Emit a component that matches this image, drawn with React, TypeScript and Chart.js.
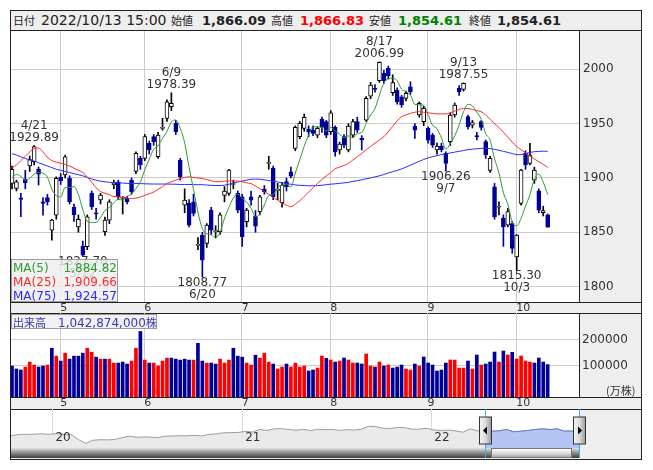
import React, { useEffect, useRef } from "react";
import { Chart, registerables } from "chart.js";
Chart.register(...registerables);

const FONT = '"DejaVu Sans", Verdana, sans-serif';
const JP = '"Noto Sans CJK JP", "DejaVu Sans", sans-serif';

// ---- daily candles 2022/4/14 .. 2022/10/13 (index 0..121) ----
const opens = [1895,1890.4,1881.8,1898.7,1911,1915,1907.9,1878,1882,1852,
1865.8,1900.5,1902.7,1899.6,1873,1855,1837.3,1836.7,1885.8,1868,
1879.7,1850.5,1861.2,1893.5,1896.5,1881.2,1881.2,1898,1906,1918,
1918,1931.9,1938,1919.6,1945.7,1954.9,1965.6,1950.3,1916.5,1875,
1876.6,1878,1838,1847.4,1839.8,1870.4,1850.5,1850.5,1884,1885.8,
1894,1885.8,1882.7,1859.7,1882.7,1864.9,1869,1889.8,1913.5,1909,
1888.5,1877.2,1896.6,1905.7,1927.3,1938,1945.7,1944.7,1944,1939.5,
1954,1951.8,1942.6,1946.6,1925.7,1938,1925.7,1939.5,1951.8,1936.5,
1953.3,1975.4,1982.5,1989.6,1996.3,2000.9,1978.5,1981,1974.8,1973.3,
1984,1947.8,1958,1951.8,1945.7,1939.5,1925.7,1929.4,1922.7,1933.4,
1958,1982.5,1981.6,1956.4,1948.7,1938.5,1951.8,1933.4,1907,1891.9,
1873,1862.8,1856.6,1858,1827.4,1876.6,1922.7,1913.4,1898,1888.2,
1868,1866.09];
const highs = [1911,1898,1885.8,1907,1920,1929.89,1910,1882,1885,1862,
1901,1904,1921,1902,1876,1866,1842,1866,1888,1872,
1886,1864,1880,1898,1898,1883,1883,1900,1924,1920,
1940,1934,1940,1942,1955,1972,1978.39,1953,1918,1890,
1880,1885,1845,1850,1858,1873,1856,1868,1892,1908,
1898,1888,1885,1872,1888,1870,1884,1893,1920,1911,
1895,1896,1900,1910,1948,1952,1958.9,1948,1948,1947,
1956,1953,1962,1948,1933,1940,1950,1954,1956,1939,
1975,1988,1986,2006.99,1999,2003,1995,1983,1976,1980,
1988.6,1950,1970,1966,1947,1941,1932,1932,1924,1960,
1969,1985,1987.55,1958,1953,1942,1953,1935,1920,1895,
1878,1866,1872,1860,1848,1908,1925,1931.9,1910,1890,
1874,1866.83];
const lows = [1890,1888,1864.3,1890,1906,1912,1893.5,1865.8,1875,1842.8,
1862,1894,1900,1876,1860,1850,1827.7,1834,1871,1862,
1876,1847,1858,1890,1880,1866.8,1876,1885,1904,1908,
1916,1922,1930,1918,1944,1952,1962,1940,1898,1868,
1855,1865,1834,1808.77,1836,1848,1845,1848,1878,1884,
1890,1868,1837,1855,1875,1850,1866,1885,1908,1880,
1880,1873,1888,1900,1925,1936,1943,1938,1939,1937,
1942,1937,1940,1920,1922,1928,1924,1937,1942,1925.7,
1952,1973,1979,1988,1987,1991,1976,1968,1965,1971,
1977,1936.5,1956,1948,1932,1928,1922,1924,1906.26,1930,
1956,1976,1980,1945,1946,1935,1944,1918,1905,1862,
1866,1837,1855,1830.6,1815.3,1875,1908,1912,1895,1868,
1865,1854.61];
const closes = [1908,1896.5,1880.3,1895.6,1917,1928.8,1903.6,1876.6,1878,1861.2,
1899.6,1897.5,1919.5,1878.1,1866,1862,1829,1864.3,1873.5,1867,
1884.3,1861.2,1878.1,1895.6,1882.7,1881.2,1878.1,1887.3,1922.7,1912,
1938,1925.7,1933.4,1939.5,1945.7,1970.2,1968.7,1942.6,1901,1879.6,
1856.6,1867.4,1838.5,1824.4,1856.6,1852,1851.5,1866,1888,1907.3,
1894.4,1870.4,1845.9,1870.4,1879.6,1855.7,1882.7,1887.3,1914,1882.7,
1888.9,1893.5,1891.9,1901.7,1946.6,1950.3,1955.8,1942.6,1941,1945.7,
1946.6,1939.5,1960,1924.2,1931.2,1930.3,1947.8,1951.8,1944.1,1935,
1973.3,1985.6,1981.6,2006.4,1989.6,1993.9,1987.7,1970.2,1967.2,1977.9,
1979.4,1944.1,1968.7,1964.1,1934.9,1930.3,1929.4,1925.7,1913.4,1958,
1967.2,1979.4,1987.1,1947.2,1950.9,1938,1946.6,1921.1,1918,1864.3,
1873.5,1855,1869,1835.2,1847.4,1907.3,1911.9,1921,1907.3,1870.4,
1870,1854.61];
const prevCloses = [1880, 1890, 1912, 1910];

const ma25 = [1909,1912,1916,1920,1924,1927,1927.5,1924,1919,1916,
1914.5,1913.5,1912.5,1911,1909,1907,1905,1901,1896,1891,
1887.5,1886,1884.5,1883,1882.5,1882,1881.5,1881,1881.5,1882.5,
1884,1885.5,1887,1889.5,1892,1895,1896.5,1898,1899.5,1900.5,
1901,1900.5,1900,1899.5,1898.5,1897.5,1896.5,1896.5,1897,1897.2,
1897.4,1897,1896.5,1895.5,1894.8,1892.5,1890,1887.5,1885,1882,
1879.5,1877,1875,1873.5,1876,1879,1883,1887,1891,1895,
1898.5,1902,1905,1908.5,1910,1911.5,1913.5,1916.5,1919.5,1922.5,
1926,1929,1932,1935,1938,1942.5,1947.5,1952.5,1956.5,1958,
1959.5,1960.5,1961,1960.5,1960,1959.5,1959,1959,1959,1960,
1961.5,1963,1964,1964,1963,1962,1961,1958,1954,1950,
1946.5,1942,1937.5,1933,1929,1926,1923,1920,1917.5,1915,
1912.5,1909.66];
const ma75 = [1922.5,1921,1919.5,1918,1916.5,1915.5,1914,1912.5,1911,1909.5,
1908,1907,1906,1905,1904,1903,1902,1900.5,1899,1898,
1897,1896.5,1896,1895.8,1895.5,1895.3,1895,1895,1895,1894.8,
1894.6,1894.5,1894.4,1894.4,1894.4,1894.4,1894.3,1894.2,1894,1894,
1894,1893.9,1893.8,1893.8,1893.5,1893.2,1893,1893,1893.3,1894.2,
1895.3,1896.3,1897.2,1898,1898.8,1899,1898.8,1898.3,1897.6,1897,
1896.3,1895.6,1894.9,1894.2,1893.6,1893.2,1893,1892.8,1892.8,1893,
1893.3,1893.8,1894.3,1894.6,1895,1895.5,1896,1896.8,1897.5,1898.3,
1899.2,1900,1901,1902,1903.2,1904.5,1905.8,1907,1908.3,1910,
1911.8,1913.6,1915.4,1917,1918.5,1919.6,1920.6,1921.5,1922.3,1923,
1923.8,1924.5,1925.3,1926,1926.5,1926.9,1927.2,1927.3,1927,1926.3,
1925.5,1924.5,1923.5,1922.5,1921.5,1921.5,1922.5,1923.5,1924.2,1924.5,
1924.6,1924.57];

// volume in 万株
const volumes = [98700,87200,83300,94900,114100,102600,94900,98700,102600,168000,
137200,118000,148700,125600,137200,137200,148700,168000,152600,133300,
125600,125600,125600,110300,110300,114100,106400,118000,168000,233300,
121800,110300,110300,98700,118000,129500,129500,125600,121800,125600,
121800,121800,187200,118000,110300,110300,106400,125600,110300,121800,
168000,137200,133300,110300,102600,141000,129500,148700,114100,106400,
87200,94900,106400,94900,110300,94900,98700,79500,83300,91000,
137700,128600,122100,114300,118200,129900,122100,110400,110400,106500,
145500,98700,94800,114300,98700,102600,90900,94800,102600,87000,
83100,106500,98700,133800,110400,102600,79200,83100,110400,122100,
122100,90900,90900,118200,87000,141600,102600,106500,114300,153200,
114300,157100,141600,151900,126000,137700,118200,114300,110400,129900,
114300,104287];

const priceTicks = [1800, 1850, 1900, 1950, 2000];
const volumeTicks = [100000, 200000];
const monthLabels = ["5", "6", "7", "8", "9", "10"];
const monthStartIdx = [11, 30, 52, 72, 94, 114];

// high / low annotations
const noteIdx = [5, 36, 83, 102, 16, 43, 98, 114];
const noteDate = ["4/21", "6/9", "8/17", "9/13", "5/12", "6/20", "9/7", "10/3"];
const noteKind = ["high", "high", "high", "high", "low", "low", "low", "low"];

const maNames = ["MA(5)", "MA(25)", "MA(75)"];
const maValueText = ["1,884.82", "1,909.66", "1,924.57"];
const maColors = ["#2f9a2f", "#ff2a2a", "#2a2aff"];

// navigator: TOPIX every 14 days, the last point on 2022/10/13 (day 1096 from 2019/10/13)
const navValues = [1620,1650,1700,1700,1710,1730,1700,1745,1690,1690,
1440,1240,1400,1430,1420,1440,1530,1610,1550,1570,
1560,1540,1610,1620,1630,1630,1650,1620,1700,1730,
1780,1790,1800,1850,1820,1950,1900,1980,1990,1950,
1910,1960,1890,1960,1940,1950,1900,1940,1920,1960,
2110,2090,2010,2000,2050,2040,1960,1970,2010,1920,
1900,1920,1880,1810,1980,1880,1880,1860,1880,1950,
1830,1860,1900,1950,1980,1945,1980,1865,1870,1854.61];
const navStepDays = 14;
const navLastDay = 1096;
const navYearLabels = ["20", "21", "22"];
const navYearDays = [80, 446, 811];
const navSelStart = 914;

const X_MIN = -0.227, X_MAX = 128.08;
const Y_MIN = 1785.8, Y_MAX = 2035.3;
const VOL_MIN = -21790, VOL_MAX = 305058;
const NAV_MIN = 1008, NAV_MAX = 2989;

const DOWN = "#000099";
const UPVOL = "#ff0000";

const idx = closes.map((_, i) => i);
const allCloses = [...prevCloses, ...closes];
const ma5 = closes.map((_, i) => {
  let s = 0;
  for (let k = 0; k < 5; k++) s += allCloses[i + 4 - k];
  return s / 5;
});
const isUp = (i: number) => closes[i] >= opens[i];
const prevClose = (i: number) => (i === 0 ? prevCloses[prevCloses.length - 1] : closes[i - 1]);

const xAxisBase = (height: number) => ({
  type: "linear" as const,
  min: X_MIN,
  max: X_MAX,
  offset: false,
  grid: { color: "#cccccc", drawTicks: false, offset: false },
  border: { display: false },
  ticks: {
    font: { family: FONT, size: 11 },
    color: "#333",
    padding: 0,
    align: "start" as const,
    maxRotation: 0,
    autoSkip: false,
    callback: (_v: any, i: number) => monthLabels[i],
  },
  afterBuildTicks: (s: any) => {
    s.ticks = monthStartIdx.map((m) => ({ value: m - 0.12 }));
  },
  afterFit: (s: any) => {
    s.height = height;
    s.paddingLeft = 0;
    s.paddingRight = 0;
  },
});

const notePlugin = {
  id: "notes",
  afterDatasetsDraw(chart: any) {
    const { ctx } = chart;
    const x = chart.scales.x;
    const y = chart.scales.y;
    ctx.save();
    ctx.font = `12px ${FONT}`;
    ctx.fillStyle = "#333";
    ctx.textAlign = "center";
    ctx.textBaseline = "middle";
    noteIdx.forEach((i, k) => {
      const px = x.getPixelForValue(i);
      if (noteKind[k] === "high") {
        const py = y.getPixelForValue(highs[i]);
        ctx.fillText(highs[i].toFixed(2), px, py - 7.5);
        ctx.fillText(noteDate[k], px, py - 19.5);
      } else {
        const py = y.getPixelForValue(lows[i]);
        ctx.fillText(lows[i].toFixed(2), px, py + 5.5);
        ctx.fillText(noteDate[k], px, py + 17.5);
      }
    });
    ctx.restore();
  },
};

const navPlugin = {
  id: "nav",
  afterDraw(chart: any) {
    const { ctx, chartArea } = chart;
    const xs = chart.scales.x;
    ctx.save();
    ctx.font = `12px ${FONT}`;
    ctx.fillStyle = "#333";
    ctx.textAlign = "left";
    ctx.textBaseline = "middle";
    navYearDays.forEach((d, k) => {
      ctx.fillText(navYearLabels[k], xs.getPixelForValue(d) + 3, chartArea.top + 29);
    });
    [navSelStart, navLastDay].forEach((d, k) => {
      const px = Math.round(xs.getPixelForValue(d)) + 0.5;
      ctx.strokeStyle = "#2bb6e6";
      ctx.lineWidth = 1;
      ctx.beginPath();
      ctx.moveTo(px, 0);
      ctx.lineTo(px, chart.height);
      ctx.stroke();
      const hx = px - 6, hy = chartArea.top + 8, hw = 12, hh = 27;
      const g = ctx.createLinearGradient(hx, 0, hx + hw, 0);
      g.addColorStop(0, "#f4f4f4");
      g.addColorStop(0.5, "#dcdcdc");
      g.addColorStop(1, "#9a9a9a");
      ctx.fillStyle = g;
      ctx.fillRect(hx, hy, hw, hh);
      ctx.strokeStyle = "#333";
      ctx.strokeRect(hx, hy, hw, hh);
      ctx.fillStyle = "#000";
      ctx.beginPath();
      const cy = hy + hh / 2;
      if (k === 0) {
        ctx.moveTo(px - 2.5, cy);
        ctx.lineTo(px + 1.5, cy - 4);
        ctx.lineTo(px + 1.5, cy + 4);
      } else {
        ctx.moveTo(px + 2.5, cy);
        ctx.lineTo(px - 1.5, cy - 4);
        ctx.lineTo(px - 1.5, cy + 4);
      }
      ctx.closePath();
      ctx.fill();
    });
    ctx.restore();
  },
};

export default function App() {
  const mainRef = useRef<HTMLCanvasElement>(null);
  const volRef = useRef<HTMLCanvasElement>(null);
  const navRef = useRef<HTMLCanvasElement>(null);

  useEffect(() => {
    const common = {
      animation: false as const,
      responsive: false,
      maintainAspectRatio: false,
      events: [] as any[],
      plugins: { legend: { display: false }, tooltip: { enabled: false } },
    };

    const main = new Chart(mainRef.current!, {
      type: "bar",
      data: {
        datasets: [
          {
            type: "line",
            data: ma5.map((v, i) => ({ x: i, y: v })),
            borderColor: maColors[0],
            borderWidth: 1,
            pointRadius: 0,
            cubicInterpolationMode: "monotone",
            order: 0,
          },
          {
            type: "line",
            data: ma25.map((v, i) => ({ x: i, y: v })),
            borderColor: maColors[1],
            borderWidth: 1,
            pointRadius: 0,
            cubicInterpolationMode: "monotone",
            order: 0,
          },
          {
            type: "line",
            data: ma75.map((v, i) => ({ x: i, y: v })),
            borderColor: maColors[2],
            borderWidth: 1,
            pointRadius: 0,
            cubicInterpolationMode: "monotone",
            order: 0,
          },
          {
            type: "bar",
            data: idx.map((i) => ({ x: i, y: [opens[i], closes[i]] })),
            backgroundColor: idx.map((i) => (isUp(i) ? "#ffffff" : DOWN)),
            borderColor: idx.map((i) => (isUp(i) ? "#000000" : DOWN)),
            borderWidth: 1,
            borderSkipped: false,
            barThickness: 4,
            minBarLength: 1,
            grouped: false,
            order: 1,
          },
          {
            type: "bar",
            data: idx.map((i) => ({ x: i, y: [lows[i], highs[i]] })),
            backgroundColor: idx.map((i) => (isUp(i) ? "#000000" : DOWN)),
            barThickness: 1,
            grouped: false,
            order: 2,
          },
        ],
      } as any,
      options: {
        ...common,
        layout: { padding: 0 },
        scales: {
          x: xAxisBase(11),
          y: {
            type: "linear",
            position: "right",
            min: Y_MIN,
            max: Y_MAX,
            grid: { color: "#cccccc", drawTicks: false },
            border: { display: false },
            ticks: {
              font: { family: FONT, size: 12 },
              color: "#333",
              padding: 4,
              callback: (v: any) => String(v),
            },
            afterBuildTicks: (s: any) => {
              s.ticks = priceTicks.map((v) => ({ value: v }));
            },
            afterFit: (s: any) => {
              s.width = 62;
              s.paddingTop = 0;
              s.paddingBottom = 0;
            },
          },
        },
      } as any,
      plugins: [notePlugin],
    });

    const vol = new Chart(volRef.current!, {
      type: "bar",
      data: {
        datasets: [
          {
            data: idx.map((i) => ({ x: i, y: volumes[i] })),
            backgroundColor: idx.map((i) => (closes[i] >= prevClose(i) ? UPVOL : DOWN)),
            barThickness: 3,
            base: VOL_MIN,
            grouped: false,
          },
        ],
      } as any,
      options: {
        ...common,
        layout: { padding: 0 },
        scales: {
          x: xAxisBase(12),
          y: {
            type: "linear",
            position: "right",
            min: VOL_MIN,
            max: VOL_MAX,
            grid: { color: "#cccccc", drawTicks: false },
            border: { display: false },
            ticks: {
              font: { family: FONT, size: 12 },
              color: "#333",
              padding: 3,
              callback: (v: any) => String(v),
            },
            afterBuildTicks: (s: any) => {
              s.ticks = volumeTicks.map((v) => ({ value: v }));
            },
            afterFit: (s: any) => {
              s.width = 62;
              s.paddingTop = 0;
              s.paddingBottom = 0;
            },
          },
        },
      } as any,
    });

    const navData = navValues.map((v, k) => ({
      x: navLastDay - navStepDays * (navValues.length - 1 - k),
      y: v,
    }));
    const navSel = navData.filter((p) => p.x >= navSelStart);
    const nav = new Chart(navRef.current!, {
      type: "line",
      data: {
        datasets: [
          {
            data: navSel,
            borderColor: "#6b78c6",
            borderWidth: 1,
            pointRadius: 0,
            fill: "start",
            backgroundColor: "#b4c4f4",
          },
          {
            data: navData,
            borderColor: "#9c9c9c",
            borderWidth: 1,
            pointRadius: 0,
            fill: "start",
            backgroundColor: "#eaeaea",
          },
        ],
      } as any,
      options: {
        ...common,
        layout: { padding: { left: 0, top: 0, right: 62, bottom: 10 } },
        scales: {
          x: {
            type: "linear",
            min: 0,
            max: navLastDay,
            grid: { color: "#d8d8d8", drawTicks: false },
            border: { display: false },
            ticks: { display: false },
            afterBuildTicks: (s: any) => {
              s.ticks = navYearDays.map((d) => ({ value: d }));
            },
            afterFit: (s: any) => {
              s.height = 0;
              s.paddingLeft = 0;
              s.paddingRight = 0;
            },
          },
          y: { type: "linear", display: false, min: NAV_MIN, max: NAV_MAX },
        },
      } as any,
      plugins: [navPlugin],
    });

    return () => {
      main.destroy();
      vol.destroy();
      nav.destroy();
    };
  }, []);

  const abs = (l: number, t: number, w: number, h: number, extra: any = {}) => ({
    position: "absolute" as const,
    left: l,
    top: t,
    width: w,
    height: h,
    ...extra,
  });
  const line = "#222";
  const hdrLabel = { fontFamily: JP, fontSize: 11, color: "#222" };
  const hdrNum = { fontFamily: FONT, fontSize: 13, fontWeight: "bold" as const };

  const headerItems: [number, string, any][] = [
    [13, "日付", hdrLabel],
    [41, "2022/10/13 15:00", { fontFamily: FONT, fontSize: 14, color: "#222" }],
    [171, "始値", hdrLabel],
    [202, "1,866.09", { ...hdrNum, color: "#222" }],
    [271, "高値", hdrLabel],
    [300, "1,866.83", { ...hdrNum, color: "#ff0000" }],
    [369, "安値", hdrLabel],
    [398, "1,854.61", { ...hdrNum, color: "#008000" }],
    [469, "終値", hdrLabel],
    [497, "1,854.61", { ...hdrNum, color: "#222" }],
  ];

  return (
    <div style={abs(0, 0, 653, 470, { background: "#fff", overflow: "hidden" })}>
      <div style={abs(10, 10, 632, 450, { background: "#eeeeee", border: `1px solid ${line}`, boxSizing: "border-box" })} />
      {headerItems.map(([l, t, st], k) => (
        <span key={k} style={{ position: "absolute", left: l, top: 10, height: 20, lineHeight: "21px", whiteSpace: "nowrap", ...st }}>
          {t}
        </span>
      ))}
      <div style={abs(10, 30, 632, 1, { background: line })} />
      <div style={abs(11, 31, 568, 271, { background: "#fff" })} />
      <div style={abs(579, 31, 1, 271, { background: line })} />
      <div style={abs(10, 302, 632, 1, { background: line })} />
      <div style={abs(10, 313, 632, 1, { background: line })} />
      <div style={abs(11, 314, 568, 83, { background: "#fff" })} />
      <div style={abs(579, 314, 1, 83, { background: line })} />
      <div style={abs(10, 397, 632, 1, { background: line })} />
      <div style={abs(10, 409, 632, 1, { background: line })} />
      <div style={abs(11, 410, 568, 38, { background: "#fff" })} />
      <div style={abs(579, 410, 1, 48, { background: line })} />
      <div style={abs(11, 448, 568, 10, { background: "linear-gradient(#e2e2e2, #9a9a9a 40%, #3c3c3c)" })} />
      <div style={abs(491, 448, 81, 10, { background: "linear-gradient(#ffffff, #dcdcdc 55%, #aaaaaa)", border: "1px solid #777", boxSizing: "border-box" })} />

      <canvas ref={mainRef} width={630} height={282} style={abs(11, 31, 630, 282)} />
      <canvas ref={volRef} width={630} height={96} style={abs(11, 313, 630, 96)} />
      <canvas ref={navRef} width={630} height={49} style={abs(11, 409, 630, 49)} />

      <div style={abs(11, 259, 107, 43, { background: "rgba(238,238,238,0.82)", border: "1px solid #9a9a9a", boxSizing: "border-box" })}>
        {maNames.map((n, k) => (
          <div key={k} style={{ position: "absolute", left: 0, top: 1 + k * 14, width: 105, height: 14, lineHeight: "14px", fontFamily: FONT, fontSize: 12, color: maColors[k] }}>
            <span style={{ position: "absolute", left: 1 }}>{n}</span>
            <span style={{ position: "absolute", right: 0 }}>{maValueText[k]}</span>
          </div>
        ))}
      </div>
      <div style={abs(11, 314, 146, 15, { background: "rgba(238,238,238,0.85)", border: "1px solid #9a9a9a", boxSizing: "border-box", whiteSpace: "nowrap", lineHeight: "13px", color: "#3a3ab0" })}>
        <span style={{ fontFamily: JP, fontSize: 11, marginLeft: 1 }}>出来高</span>
        <span style={{ fontFamily: FONT, fontSize: 12, marginLeft: 12 }}>1,042,874,000</span>
        <span style={{ fontFamily: JP, fontSize: 11 }}>株</span>
      </div>
      <div style={abs(606, 383, 34, 14, { fontFamily: JP, fontSize: 11, color: "#333", lineHeight: "14px", whiteSpace: "nowrap" })}>(万株)</div>
    </div>
  );
}
